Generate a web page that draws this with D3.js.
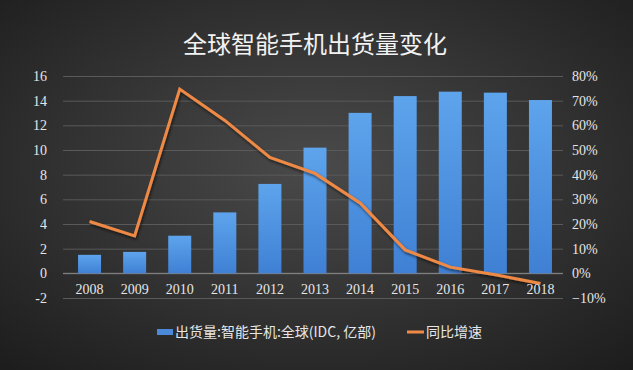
<!DOCTYPE html>
<html lang="zh">
<head>
<meta charset="UTF-8">
<title>全球智能手机出货量变化</title>
<script src="https://d3js.org/d3.v7.min.js"></script>
<style>
  body { margin: 0; background: #2a2a2a; }
  svg { display: block; }
  .grid line { stroke: #5a5a5a; stroke-width: 1; }
  .grid path { display: none; }
</style>
</head>
<body>
<script>
var years = ["2008","2009","2010","2011","2012","2013","2014","2015","2016","2017","2018"];
var shipments = [1.5, 1.74, 3.05, 4.94, 7.25, 10.19, 13.01, 14.37, 14.73, 14.65, 14.05];
var growth = [0.21, 0.152, 0.747, 0.62, 0.47, 0.405, 0.285, 0.095, 0.025, -0.006, -0.041];
var leftTicks = [-2, 0, 2, 4, 6, 8, 10, 12, 14, 16];
var rightTicks = [-0.1, 0, 0.1, 0.2, 0.3, 0.4, 0.5, 0.6, 0.7, 0.8];
var legendNames = ["出货量:智能手机:全球(IDC, 亿部)", "同比增速"];

var W = 633, H = 370;
var margin = {top: 76, right: 70, bottom: 72, left: 67};
var w = W - margin.left - margin.right, h = H - margin.top - margin.bottom;

var svg = d3.select("body").append("svg").attr("width", W).attr("height", H);
var defs = svg.append("defs");

var bg = defs.append("radialGradient").attr("id", "bg").attr("cx", "50%").attr("cy", "45%").attr("r", "75%");
bg.append("stop").attr("offset", "0%").attr("stop-color", "#4a4a4a");
bg.append("stop").attr("offset", "100%").attr("stop-color", "#1c1c1c");

var barGrad = defs.append("linearGradient").attr("id", "bar").attr("x1", 0).attr("y1", 0).attr("x2", 0).attr("y2", 1);
barGrad.append("stop").attr("offset", "0%").attr("stop-color", "#5ea4ec");
barGrad.append("stop").attr("offset", "100%").attr("stop-color", "#3f80d4");

var shadow = defs.append("filter").attr("id", "shadow").attr("x", "-10%").attr("y", "-10%").attr("width", "120%").attr("height", "130%");
shadow.append("feDropShadow").attr("dx", 1).attr("dy", 2).attr("stdDeviation", 1.5).attr("flood-color", "#000").attr("flood-opacity", 0.6);

svg.append("rect").attr("width", W).attr("height", H).attr("fill", "url(#bg)");

svg.append("text")
  .attr("x", 315).attr("y", 53)
  .attr("text-anchor", "middle")
  .attr("fill", "#f2f2f2")
  .style("font-family", "'Noto Sans CJK SC', sans-serif")
  .style("font-size", "24px")
  .text("全球智能手机出货量变化");

var g = svg.append("g").attr("transform", "translate(" + margin.left + "," + margin.top + ")");

var x = d3.scaleBand().domain(years).range([0, w]).paddingInner(0.49).paddingOuter(0.245);
var y = d3.scaleLinear().domain([-2, 16]).range([h, 0]);
var y2 = d3.scaleLinear().domain([-0.1, 0.8]).range([h, 0]);

g.append("g").attr("class", "grid")
  .attr("transform", "translate(-4,0)")
  .call(d3.axisLeft(y).tickValues(leftTicks).tickSize(-(w + 4)).tickFormat(""));

g.append("line")
  .attr("x1", -4).attr("x2", w)
  .attr("y1", y(0)).attr("y2", y(0))
  .attr("stroke", "#8a8a8a");

g.selectAll(".bar").data(shipments).enter().append("rect")
  .attr("class", "bar")
  .attr("x", function(d, i) { return x(years[i]); })
  .attr("width", x.bandwidth())
  .attr("y", function(d) { return y(d); })
  .attr("height", function(d) { return y(0) - y(d); })
  .attr("fill", "url(#bar)");

var line = d3.line()
  .x(function(d, i) { return x(years[i]) + x.bandwidth() / 2; })
  .y(function(d) { return y2(d); });

g.append("path").datum(growth)
  .attr("d", line)
  .attr("fill", "none")
  .attr("stroke", "#ee8a45")
  .attr("stroke-width", 3)
  .attr("filter", "url(#shadow)");

function styleTicks(sel) {
  sel.select(".domain").remove();
  sel.selectAll(".tick text")
    .attr("fill", "#e6e6e6")
    .style("font-family", "'Liberation Serif', 'DejaVu Serif', serif")
    .style("font-size", "14px");
}

var yAxisL = g.append("g").attr("transform", "translate(-17,0)")
  .call(d3.axisLeft(y).tickValues(leftTicks).tickSize(0).tickFormat(function(d) { return d; }));
styleTicks(yAxisL);

var yAxisR = g.append("g").attr("transform", "translate(" + (w + 6) + ",0)")
  .call(d3.axisRight(y2).tickValues(rightTicks).tickSize(0).tickFormat(d3.format(".0%")));
styleTicks(yAxisR);

var xAxis = g.append("g").attr("transform", "translate(0," + (y(0) + 8) + ")")
  .call(d3.axisBottom(x).tickSize(0));
styleTicks(xAxis);

var legend = svg.append("g").attr("transform", "translate(0,332)");
legend.append("rect").attr("x", 157).attr("y", -3).attr("width", 16).attr("height", 6).attr("fill", "#4a8ad8");
legend.append("text").attr("x", 175).attr("y", 5)
  .attr("fill", "#e6e6e6")
  .style("font-family", "'Noto Sans CJK SC', sans-serif").style("font-size", "14px")
  .text(legendNames[0]);
legend.append("line").attr("x1", 407).attr("x2", 424).attr("y1", 0).attr("y2", 0)
  .attr("stroke", "#ee8a45").attr("stroke-width", 3);
legend.append("text").attr("x", 426).attr("y", 5)
  .attr("fill", "#e6e6e6")
  .style("font-family", "'Noto Sans CJK SC', sans-serif").style("font-size", "14px")
  .text(legendNames[1]);
</script>
</body>
</html>
